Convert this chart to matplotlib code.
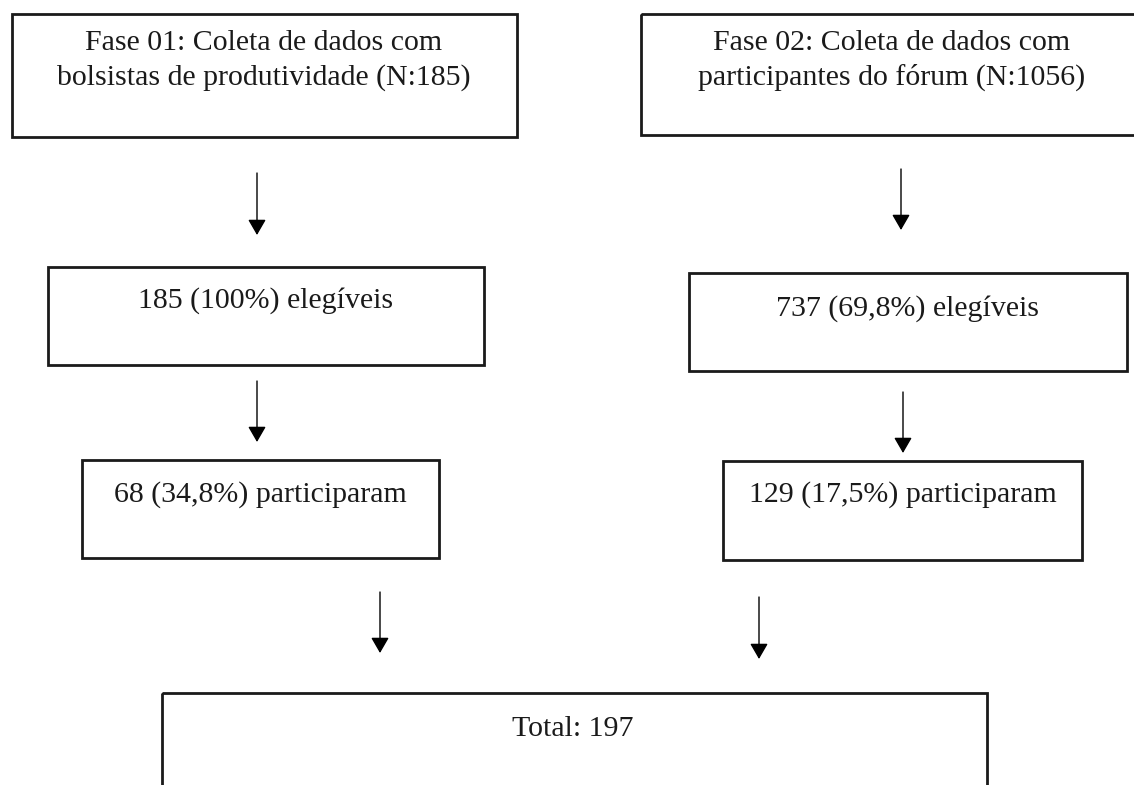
import matplotlib
matplotlib.use("Agg")
import matplotlib.pyplot as plt
from matplotlib.patches import Rectangle

# flowchart content (pixel coordinates of the 1134x785 page, y downwards)
box_lines = [
    ["Fase 01: Coleta de dados com", "bolsistas de produtividade (N:185)"],
    ["Fase 02: Coleta de dados com", "participantes do fórum (N:1056)"],
    ["185 (100%) elegíveis"],
    ["737 (69,8%) elegíveis"],
    ["68 (34,8%) participaram"],
    ["129 (17,5%) participaram"],
    ["Total: 197"],
]
box_x0 = [12, 641, 48, 689, 82, 723, 162]
box_x1 = [517, 1150, 484, 1127, 439, 1082, 987]
box_y0 = [14, 14, 267, 273, 460, 461, 693]
box_y1 = [137, 135, 365, 371, 558, 560, 820]
text_x = [264, 892, 266, 908, 260, 903, 573]
text_y = [50, 50, 308, 316, 502, 502, 736]

arrow_x = [257, 901, 257, 903, 380, 759]
arrow_y0 = [173, 169, 381, 392, 592, 597]
arrow_y1 = [235, 230, 442, 453, 653, 659]

line_gap = 35
fontsize = 21.5

plt.rcParams["font.family"] = ["Liberation Serif", "DejaVu Serif"]

fig = plt.figure(figsize=(11.34, 7.85), dpi=100)
ax = fig.add_axes([0, 0, 1, 1])
ax.set_xlim(0, 1134)
ax.set_ylim(785, 0)
ax.axis("off")

for i, lines in enumerate(box_lines):
    rect = Rectangle(
        (box_x0[i], box_y0[i]),
        box_x1[i] - box_x0[i],
        box_y1[i] - box_y0[i],
        fill=False,
        edgecolor="#1a1a1a",
        linewidth=2,
        clip_on=False,
    )
    ax.add_patch(rect)
    for j, line in enumerate(lines):
        ax.text(
            text_x[i],
            text_y[i] + j * line_gap,
            line,
            ha="center",
            va="baseline",
            fontsize=fontsize,
            color="#1a1a1a",
        )

for x, y0, y1 in zip(arrow_x, arrow_y0, arrow_y1):
    ax.annotate(
        "",
        xy=(x, y1),
        xytext=(x, y0),
        arrowprops=dict(
            arrowstyle="-|>,head_length=0.95,head_width=0.55",
            mutation_scale=10,
            color="black",
            lw=1,
            shrinkA=0,
            shrinkB=0,
        ),
    )

plt.savefig("out.png", dpi=100)
